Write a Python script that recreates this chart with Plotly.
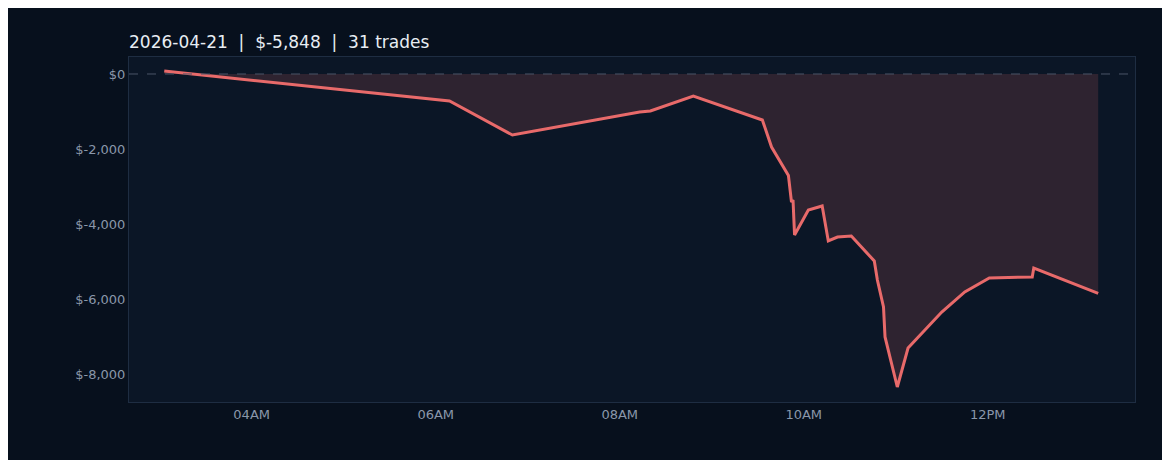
import plotly.graph_objects as go

times = ["03:03", "06:09", "06:50", "08:13", "08:20", "08:48", "09:33", "09:39",
         "09:50", "09:52", "09:53", "09:54", "10:03", "10:12", "10:16", "10:22",
         "10:31", "10:46", "10:48", "10:52", "10:53", "11:01", "11:08", "11:30",
         "11:45", "12:01", "12:29", "12:30", "13:12"]
pnl = [80, -720, -1627, -1013, -987, -587, -1227, -1947,
       -2707, -3413, -3360, -4293, -3627, -3520, -4453, -4347,
       -4320, -4987, -5493, -6213, -7013, -8347, -7307, -6347,
       -5813, -5440, -5413, -5173, -5848]
day = "2026-04-21"
x = [f"{day} {t}" for t in times]

fig = go.Figure()
fig.add_trace(go.Scatter(x=x, y=pnl, mode="lines", fill="tozeroy",
                         fillcolor="rgba(232,104,104,0.16)",
                         line=dict(color="#e86a6a", width=3)))
fig.add_hline(y=0, line=dict(color="#4a5568", width=1, dash="dash"))

# page has an 8px body margin, so shrink the figure to fit the window
fig.update_layout(
    width=1154, height=452,
    paper_bgcolor="#07101d", plot_bgcolor="#0b1626",
    margin=dict(l=121, r=27, t=49, b=58),
    showlegend=False,
    title=dict(text=f"{day}  |  $-5,848  |  31 trades", x=0, xref="paper",
               y=0.937, yref="container", xanchor="left",
               font=dict(color="#e8edf3", size=17, family="DejaVu Sans")),
    font=dict(family="DejaVu Sans", color="#8a97aa", size=13),
)
fig.update_xaxes(range=[f"{day} 02:40", f"{day} 13:36"], tickformat="%I%p",
                 dtick=2 * 3600 * 1000, tick0=f"{day} 00:00",
                 showgrid=False, zeroline=False, showline=True, mirror=True,
                 linecolor="#1e2d42", ticks="")
fig.update_yaxes(range=[-8747, 453], tickvals=[0, -2000, -4000, -6000, -8000],
                 ticktext=["$0", "$-2,000", "$-4,000", "$-6,000", "$-8,000"],
                 showgrid=False, zeroline=False, showline=True, mirror=True,
                 linecolor="#1e2d42", ticks="")

fig.write_html("out.html")
